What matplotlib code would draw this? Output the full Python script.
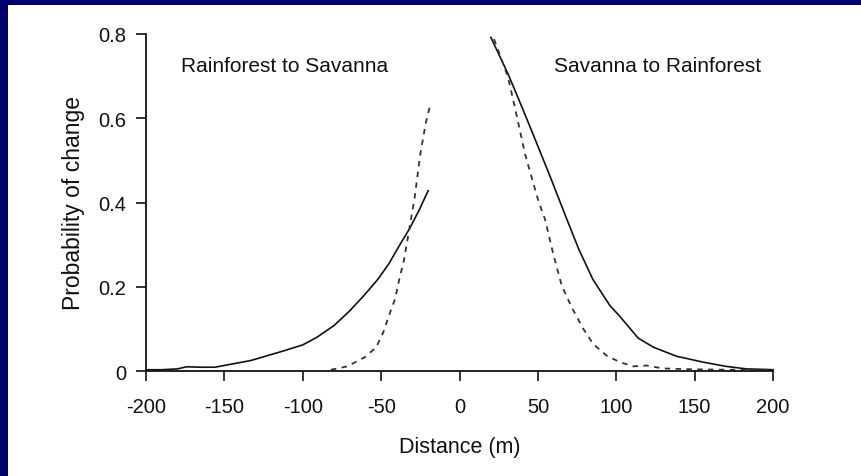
import matplotlib
matplotlib.use("Agg")
import matplotlib.pyplot as plt
from matplotlib.patches import Rectangle

# Rainforest to Savanna (left side)
rs_solid_x = [-200, -190, -180, -174, -165, -156, -133, -112, -100, -91, -80, -70, -61, -52, -45, -38, -32, -26, -20]
rs_solid_y = [0.003, 0.003, 0.005, 0.010, 0.009, 0.009, 0.025, 0.048, 0.062, 0.080, 0.108, 0.143, 0.179, 0.218, 0.255, 0.300, 0.337, 0.380, 0.428]
rs_dash_x = [-82, -71.5, -60.3, -53.2, -48.6, -44.3, -41.1, -38.4, -35.5, -32.2, -28.6, -25, -21.6, -19]
rs_dash_y = [0.003, 0.011, 0.033, 0.056, 0.092, 0.139, 0.171, 0.218, 0.262, 0.333, 0.412, 0.515, 0.587, 0.627]

# Savanna to Rainforest (right side)
sr_solid_x = [20, 31, 40, 49, 58, 68.4, 76, 85, 96, 102, 114, 124, 138.5, 155.5, 170, 183, 200]
sr_solid_y = [0.792, 0.705, 0.625, 0.543, 0.460, 0.361, 0.290, 0.218, 0.155, 0.131, 0.078, 0.056, 0.035, 0.021, 0.011, 0.005, 0.003]
sr_dash_x = [22, 31, 36.5, 41.8, 50.3, 54.5, 59.8, 65.2, 71.6, 79, 85.3, 94, 102.4, 110.8, 119.4, 130, 150, 170, 200]
sr_dash_y = [0.788, 0.697, 0.606, 0.515, 0.404, 0.361, 0.278, 0.203, 0.151, 0.100, 0.064, 0.036, 0.021, 0.011, 0.013, 0.006, 0.004, 0.003, 0.003]

xticks = [-200, -150, -100, -50, 0, 50, 100, 150, 200]
yticks = [0, 0.2, 0.4, 0.6, 0.8]
ytick_labels = ["0", "0.2", "0.4", "0.6", "0.8"]

plt.rcParams['font.family'] = ['Liberation Sans', 'DejaVu Sans']

fig = plt.figure(figsize=(8.61, 4.77), dpi=100)
fig.patch.set_facecolor('#00006e')
bg = Rectangle((8/861, 0), 1 - 8/861, 1 - 6/477, transform=fig.transFigure,
               facecolor='white', edgecolor='none', zorder=-10)
fig.patches.append(bg)

ax = fig.add_axes([146/861, 1 - 372/477, (773 - 146)/861, (372 - 35)/477])
ax.set_zorder(5)
ax.patch.set_alpha(0)

ax.plot(rs_solid_x, rs_solid_y, color='#111111', lw=1.2, clip_on=False)
ax.plot(rs_dash_x, rs_dash_y, color='#333333', lw=1.3, linestyle=(0, (3, 3)), clip_on=False)
ax.plot(sr_solid_x, sr_solid_y, color='#111111', lw=1.2, clip_on=False)
ax.plot(sr_dash_x, sr_dash_y, color='#333333', lw=1.3, linestyle=(0, (3, 3)), clip_on=False)

ax.set_xlim(-200, 200)
ax.set_ylim(0, 0.8)
ax.set_xticks(xticks)
ax.set_xticklabels([str(v) for v in xticks])
ax.set_yticks(yticks)
ax.set_yticklabels(ytick_labels)

for s in ['top', 'right']:
    ax.spines[s].set_visible(False)
for s in ['left', 'bottom']:
    ax.spines[s].set_linewidth(1.3)
    ax.spines[s].set_color('#111111')
ax.tick_params(direction='out', length=7, width=1.2, colors='#111111', labelsize=14.5, pad=7)
ax.tick_params(axis='x', pad=12)

ax.set_xlabel('Distance (m)', fontsize=15.5, color='#111111', labelpad=14)
ax.set_ylabel('Probability of change', fontsize=16.5, color='#111111', labelpad=10)

ax.text(-177.6, 0.725, 'Rainforest to Savanna', fontsize=15, color='#111111', va='center', ha='left')
ax.text(60.3, 0.725, 'Savanna to Rainforest', fontsize=15, color='#111111', va='center', ha='left')

fig.savefig('out.png', dpi=100, facecolor=fig.get_facecolor())
